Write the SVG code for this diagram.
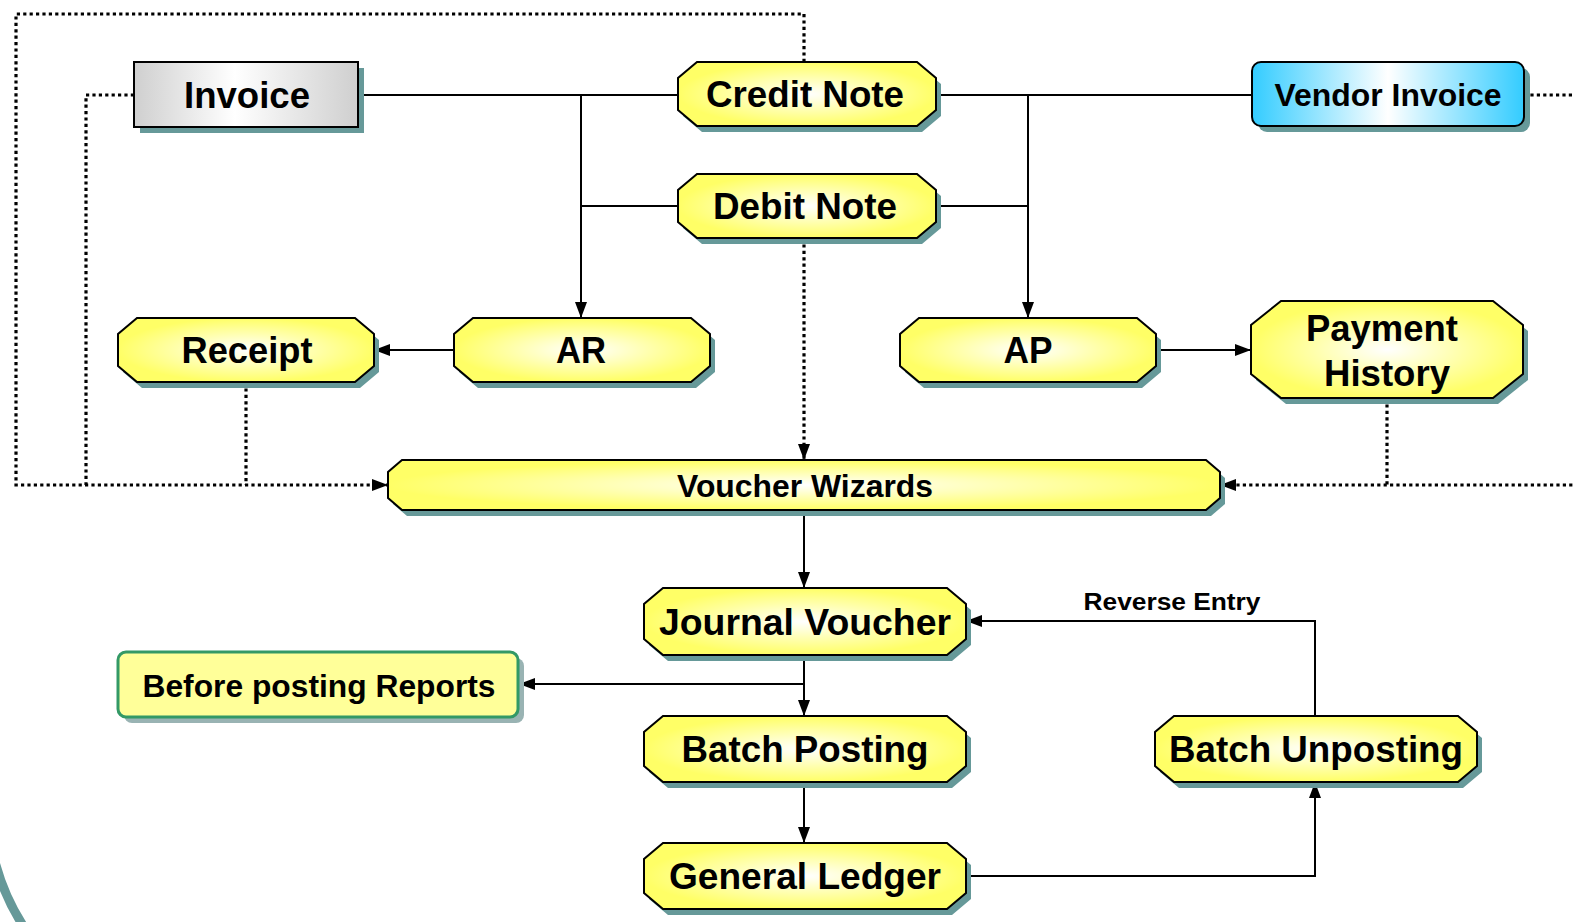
<svg xmlns="http://www.w3.org/2000/svg" width="1573" height="922" viewBox="0 0 1573 922">
<defs>
<radialGradient id="yel" cx="50%" cy="50%" r="50%">
<stop offset="0" stop-color="#ffffff"/>
<stop offset="0.55" stop-color="#ffffaa"/>
<stop offset="1" stop-color="#ffff66"/>
</radialGradient>
<linearGradient id="gray" x1="0" y1="0" x2="1" y2="0">
<stop offset="0" stop-color="#cfcfcf"/>
<stop offset="0.45" stop-color="#ffffff"/>
<stop offset="1" stop-color="#cfcfcf"/>
</linearGradient>
<linearGradient id="blue" x1="0" y1="0" x2="1" y2="0">
<stop offset="0" stop-color="#33ccff"/>
<stop offset="0.5" stop-color="#ffffff"/>
<stop offset="1" stop-color="#33ccff"/>
</linearGradient>
<marker id="arr" markerUnits="userSpaceOnUse" markerWidth="16" markerHeight="12" refX="16" refY="6" orient="auto">
<path d="M0,0 L16,6 L0,12 z" fill="#000"/>
</marker>
</defs>
<style>
.sh{fill:#669999}
.oct{fill:url(#yel);stroke:#000;stroke-width:2}
.t{font-family:"Liberation Sans",Arial,sans-serif;font-weight:bold;fill:#000;text-anchor:middle}
.big{font-size:36px}
.mid{font-size:31px}
.sm{font-size:23px}
.ln{fill:none;stroke:#000;stroke-width:2}
.dot{fill:none;stroke:#000;stroke-width:3.2;stroke-dasharray:3.2 3.2}
</style>

<path d="M -6,858 Q 4,898 26,930" fill="none" stroke="#669999" stroke-width="9"/>

<g id="connectors">
<path class="ln" d="M358,95 H678"/>
<path class="ln" d="M581,95 V318" marker-end="url(#arr)"/>
<path class="ln" d="M678,206 H581"/>
<path class="ln" d="M936,95 H1252"/>
<path class="ln" d="M1028,95 V318" marker-end="url(#arr)"/>
<path class="ln" d="M936,206 H1028"/>
<path class="ln" d="M454,350 H374" marker-end="url(#arr)"/>
<path class="ln" d="M1156,350 H1251" marker-end="url(#arr)"/>
<path class="ln" d="M804,510 V588" marker-end="url(#arr)"/>
<path class="ln" d="M804,655 V716" marker-end="url(#arr)"/>
<path class="ln" d="M804,684 H519" marker-end="url(#arr)"/>
<path class="ln" d="M804,782 V843" marker-end="url(#arr)"/>
<path class="ln" d="M966,876 H1315 V782" marker-end="url(#arr)"/>
<path class="ln" d="M1315,716 V621 H966" marker-end="url(#arr)"/>
<path class="dot" d="M804,62 V14 H16 V485 H388" marker-end="url(#arr)"/>
<path class="dot" d="M134,95 H86 V485"/>
<path class="dot" d="M246,382 V485"/>
<path class="dot" d="M804,238 V460" marker-end="url(#arr)"/>
<path class="dot" d="M1387,398 V485"/>
<path class="dot" d="M1524,95 H1590 V485 H1220" marker-end="url(#arr)"/>
<text class="t sm" x="1172" y="610" textLength="177" lengthAdjust="spacingAndGlyphs">Reverse Entry</text>
</g>

<g id="invoice">
<rect class="sh" x="140" y="68" width="224" height="65"/>
<rect x="134" y="62" width="224" height="65" fill="url(#gray)" stroke="#000" stroke-width="2"/>
<text class="t big" x="247" y="108" textLength="126" lengthAdjust="spacingAndGlyphs">Invoice</text>
</g>

<g id="credit-note">
<polygon class="sh" transform="translate(5,6)" points="697,62 917,62 936,78 936,110 917,126 697,126 678,110 678,78"/>
<polygon class="oct" points="697,62 917,62 936,78 936,110 917,126 697,126 678,110 678,78"/>
<text class="t big" x="805" y="107" textLength="198" lengthAdjust="spacingAndGlyphs">Credit Note</text>
</g>

<g id="debit-note">
<polygon class="sh" transform="translate(5,6)" points="697,174 917,174 936,190 936,222 917,238 697,238 678,222 678,190"/>
<polygon class="oct" points="697,174 917,174 936,190 936,222 917,238 697,238 678,222 678,190"/>
<text class="t big" x="805" y="219" textLength="184" lengthAdjust="spacingAndGlyphs">Debit Note</text>
</g>

<g id="vendor-invoice">
<rect class="sh" x="1258" y="68" width="272" height="64" rx="9"/>
<rect x="1252" y="62" width="272" height="64" rx="9" fill="url(#blue)" stroke="#000" stroke-width="2"/>
<text class="t mid" x="1388" y="106" textLength="227" lengthAdjust="spacingAndGlyphs">Vendor Invoice</text>
</g>

<g id="receipt">
<polygon class="sh" transform="translate(5,6)" points="137,318 355,318 374,334 374,366 355,382 137,382 118,366 118,334"/>
<polygon class="oct" points="137,318 355,318 374,334 374,366 355,382 137,382 118,366 118,334"/>
<text class="t big" x="247" y="363" textLength="131" lengthAdjust="spacingAndGlyphs">Receipt</text>
</g>

<g id="ar">
<polygon class="sh" transform="translate(5,6)" points="473,318 691,318 710,334 710,366 691,382 473,382 454,366 454,334"/>
<polygon class="oct" points="473,318 691,318 710,334 710,366 691,382 473,382 454,366 454,334"/>
<text class="t big" x="581" y="363" textLength="50" lengthAdjust="spacingAndGlyphs">AR</text>
</g>

<g id="ap">
<polygon class="sh" transform="translate(5,6)" points="919,318 1137,318 1156,334 1156,366 1137,382 919,382 900,366 900,334"/>
<polygon class="oct" points="919,318 1137,318 1156,334 1156,366 1137,382 919,382 900,366 900,334"/>
<text class="t big" x="1028" y="363" textLength="49" lengthAdjust="spacingAndGlyphs">AP</text>
</g>

<g id="payment-history">
<polygon class="sh" transform="translate(5,6)" points="1281,301 1493,301 1523,325 1523,374 1493,398 1281,398 1251,374 1251,325"/>
<polygon class="oct" points="1281,301 1493,301 1523,325 1523,374 1493,398 1281,398 1251,374 1251,325"/>
<text class="t big" x="1382" y="341" textLength="152" lengthAdjust="spacingAndGlyphs">Payment</text>
<text class="t big" x="1387" y="386" textLength="126" lengthAdjust="spacingAndGlyphs">History</text>
</g>

<g id="voucher-wizards">
<polygon class="sh" transform="translate(5,6)" points="402,460 1206,460 1220,472 1220,498 1206,510 402,510 388,498 388,472"/>
<polygon class="oct" points="402,460 1206,460 1220,472 1220,498 1206,510 402,510 388,498 388,472"/>
<text class="t mid" x="805" y="497" textLength="256" lengthAdjust="spacingAndGlyphs">Voucher Wizards</text>
</g>

<g id="journal-voucher">
<polygon class="sh" transform="translate(5,6)" points="663,588 947,588 966,604 966,639 947,655 663,655 644,639 644,604"/>
<polygon class="oct" points="663,588 947,588 966,604 966,639 947,655 663,655 644,639 644,604"/>
<text class="t big" x="805" y="635" textLength="292" lengthAdjust="spacingAndGlyphs">Journal Voucher</text>
</g>

<g id="before-posting-reports">
<rect x="124" y="658" width="400" height="65" rx="8" fill="#99b3b3"/>
<rect x="118" y="652" width="400" height="65" rx="8" fill="#ffff99" stroke="#339966" stroke-width="3"/>
<text class="t mid" x="319" y="697" textLength="353" lengthAdjust="spacingAndGlyphs">Before posting Reports</text>
</g>

<g id="batch-posting">
<polygon class="sh" transform="translate(5,6)" points="663,716 947,716 966,732 966,766 947,782 663,782 644,766 644,732"/>
<polygon class="oct" points="663,716 947,716 966,732 966,766 947,782 663,782 644,766 644,732"/>
<text class="t big" x="805" y="762" textLength="247" lengthAdjust="spacingAndGlyphs">Batch Posting</text>
</g>

<g id="batch-unposting">
<polygon class="sh" transform="translate(5,6)" points="1174,716 1458,716 1477,732 1477,766 1458,782 1174,782 1155,766 1155,732"/>
<polygon class="oct" points="1174,716 1458,716 1477,732 1477,766 1458,782 1174,782 1155,766 1155,732"/>
<text class="t big" x="1316" y="762" textLength="294" lengthAdjust="spacingAndGlyphs">Batch Unposting</text>
</g>

<g id="general-ledger">
<polygon class="sh" transform="translate(5,6)" points="663,843 947,843 966,859 966,893 947,909 663,909 644,893 644,859"/>
<polygon class="oct" points="663,843 947,843 966,859 966,893 947,909 663,909 644,893 644,859"/>
<text class="t big" x="805" y="889" textLength="272" lengthAdjust="spacingAndGlyphs">General Ledger</text>
</g>
</svg>
